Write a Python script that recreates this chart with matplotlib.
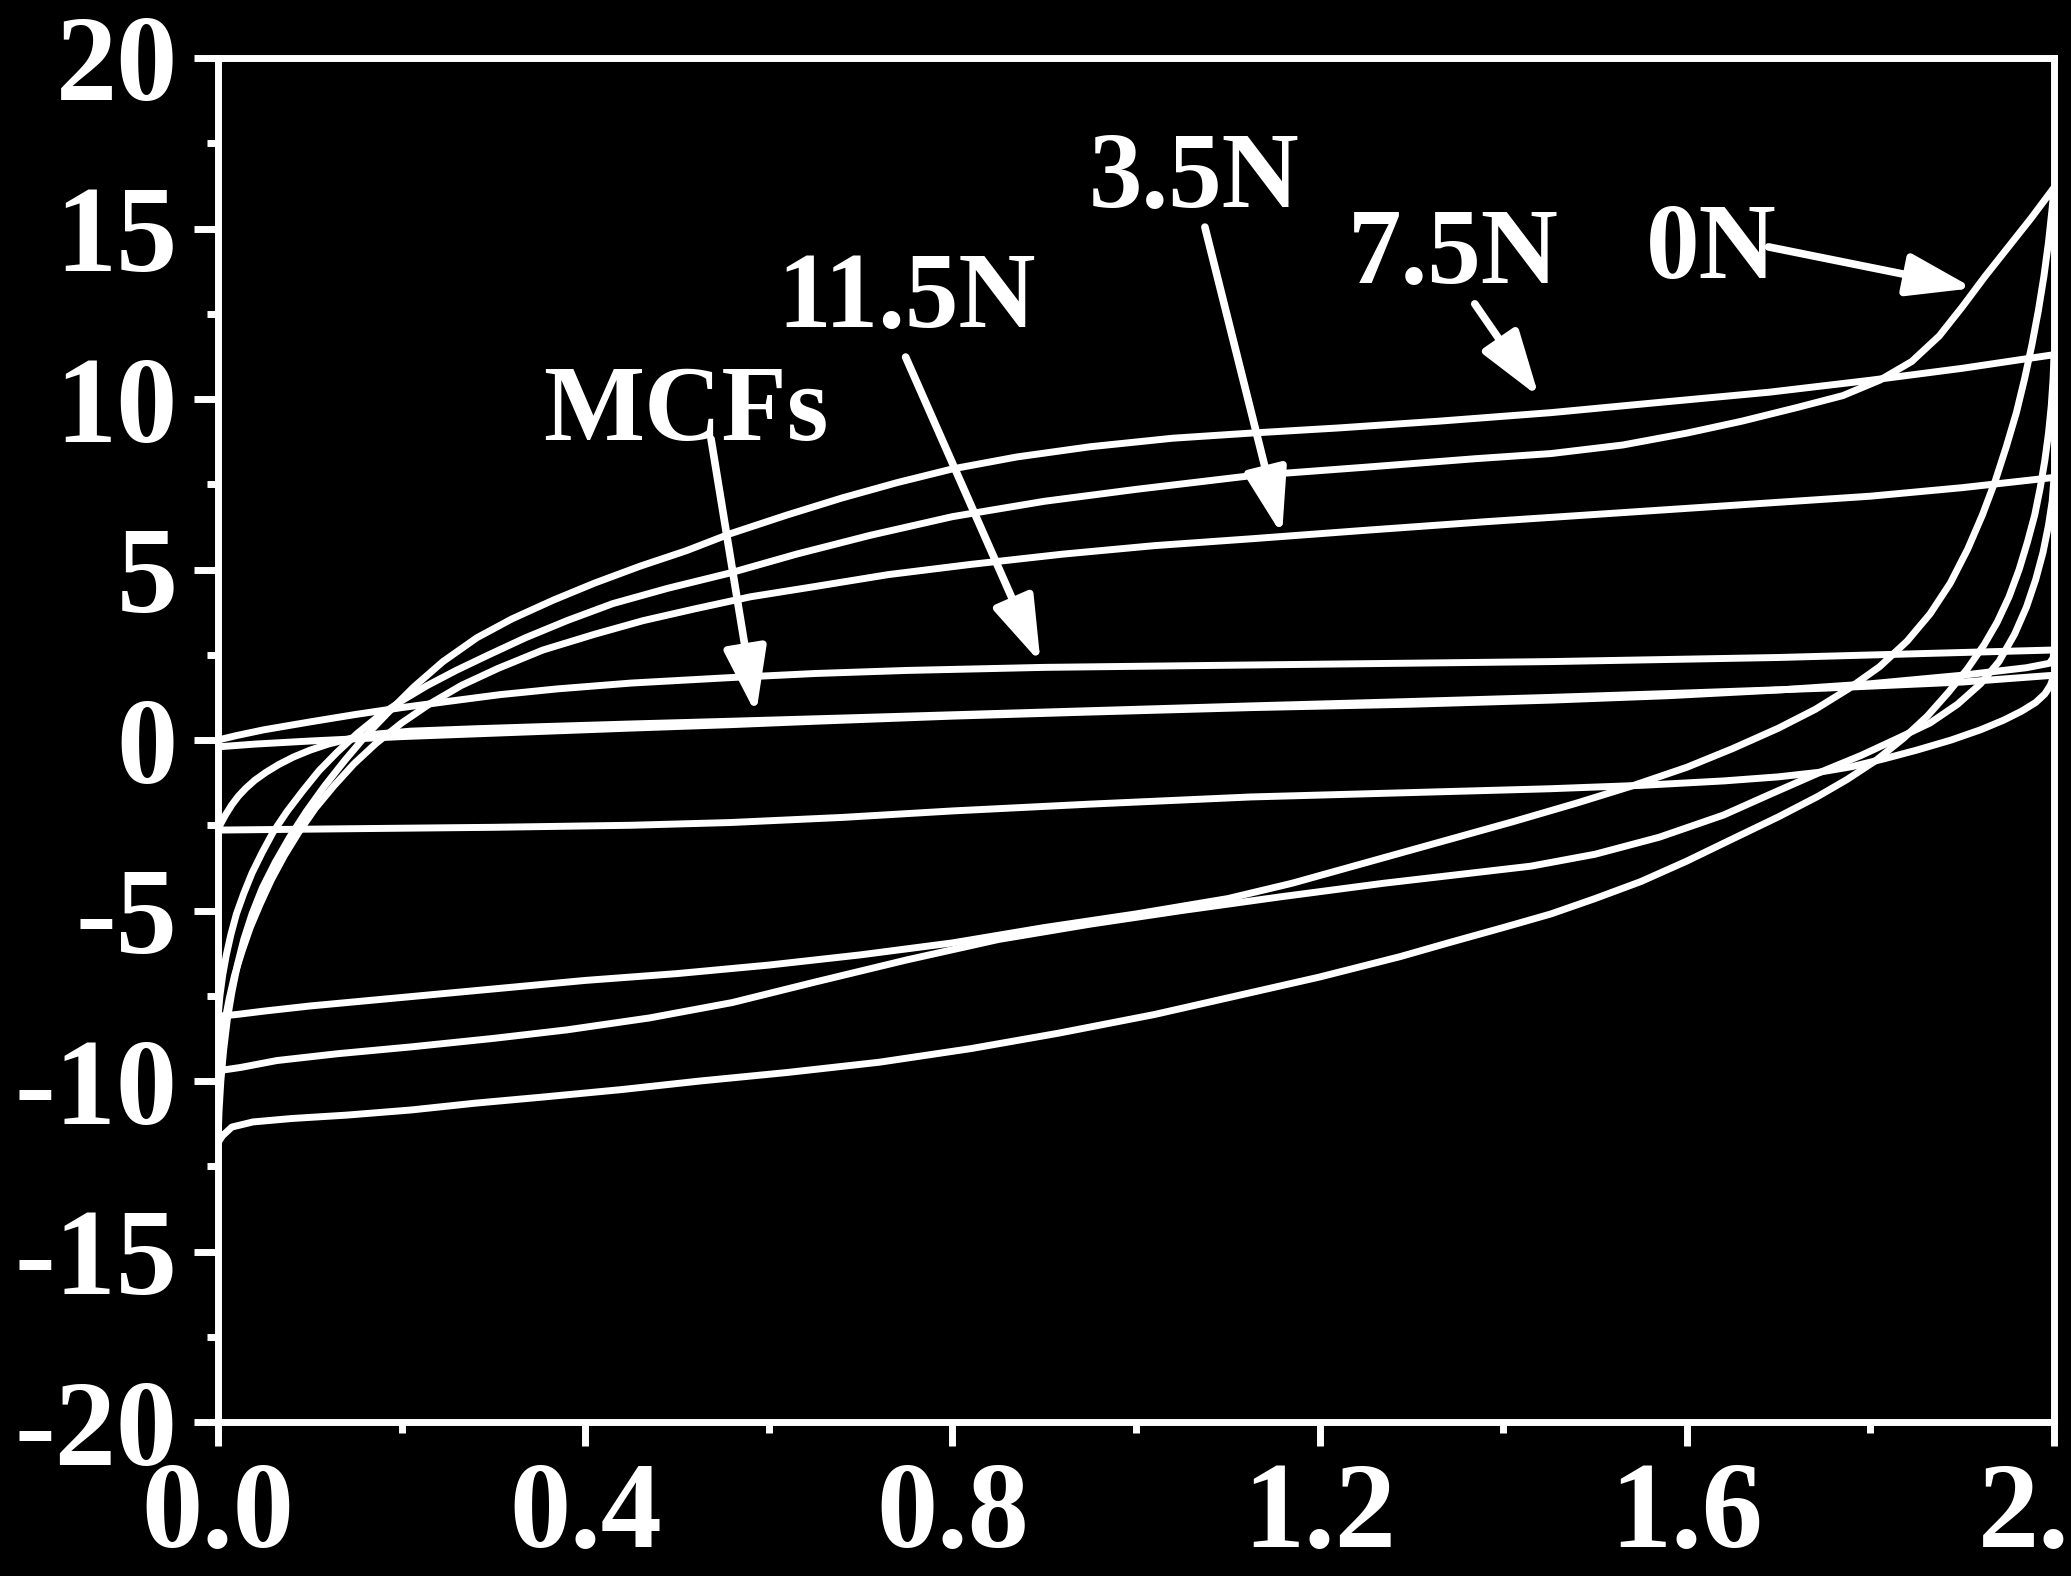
import matplotlib
matplotlib.use("Agg")
import matplotlib.pyplot as plt
from matplotlib.ticker import MultipleLocator

plt.rcParams['font.family'] = ['Liberation Serif', 'DejaVu Serif']
plt.rcParams['font.weight'] = 'bold'
plt.rcParams['axes.unicode_minus'] = False

# ---------------- data ----------------
# 0N
n0_fwd_x = [0.0, 0.002, 0.005, 0.009, 0.014, 0.02, 0.028, 0.037, 0.048, 0.06, 0.075, 0.092, 0.11, 0.13,
            0.152, 0.175, 0.2, 0.228, 0.26, 0.295, 0.335, 0.38, 0.43, 0.49, 0.558, 0.63, 0.71, 0.8, 0.9,
            1.0, 1.125, 1.25, 1.37, 1.452, 1.53, 1.6, 1.66, 1.72, 1.77, 1.81, 1.845, 1.875, 1.9, 1.925,
            1.95, 1.975, 2.0]
n0_fwd_y = [-8.1, -7.5, -6.9, -6.3, -5.7, -5.1, -4.5, -3.9, -3.3, -2.7, -2.1, -1.5, -0.9, -0.35,
            0.2, 0.7, 1.15, 1.6, 2.05, 2.5, 3.0, 3.5, 4.0, 4.45, 4.9, 5.45, 6.0, 6.55, 7.0,
            7.35, 7.75, 8.0, 8.25, 8.4, 8.65, 9.0, 9.35, 9.75, 10.1, 10.55, 11.1, 11.85, 12.7, 13.6,
            14.45, 15.3, 16.2]
n0_rev_x = [2.0, 1.998, 1.994, 1.989, 1.983, 1.976, 1.968, 1.959, 1.948, 1.936, 1.922, 1.906, 1.887,
            1.865, 1.84, 1.81, 1.776, 1.74, 1.7, 1.65, 1.6, 1.54, 1.48, 1.41, 1.33, 1.25, 1.17, 1.1,
            1.0, 0.9, 0.8, 0.7, 0.6, 0.5, 0.4, 0.3, 0.2, 0.1, 0.05, 0.02, 0.0]
n0_rev_y = [16.2, 15.6, 14.6, 13.6, 12.6, 11.6, 10.6, 9.6, 8.6, 7.6, 6.6, 5.6, 4.6,
            3.7, 2.9, 2.15, 1.5, 0.9, 0.35, -0.25, -0.8, -1.35, -1.85, -2.4, -3.0, -3.6, -4.2, -4.65,
            -5.1, -5.5, -5.95, -6.3, -6.6, -6.85, -7.05, -7.3, -7.55, -7.8, -7.95, -8.05, -8.1]

# 3.5N
n35_fwd_x = [0.0, 0.003, 0.007, 0.012, 0.018, 0.026, 0.035, 0.046, 0.058, 0.072, 0.088, 0.106, 0.126,
             0.148, 0.172, 0.2, 0.23, 0.265, 0.305, 0.354, 0.41, 0.463, 0.52, 0.58, 0.65, 0.73, 0.82,
             0.92, 1.02, 1.125, 1.25, 1.38, 1.52, 1.66, 1.8, 1.9, 2.0]
n35_fwd_y = [-9.7, -9.0, -8.3, -7.6, -6.9, -6.2, -5.5, -4.8, -4.1, -3.4, -2.7, -2.0, -1.35,
             -0.7, -0.1, 0.5, 1.05, 1.6, 2.1, 2.64, 3.1, 3.5, 3.85, 4.2, 4.5, 4.85, 5.15,
             5.45, 5.7, 5.9, 6.15, 6.4, 6.65, 6.9, 7.15, 7.4, 7.7]
n35_rev_x = [2.0, 1.998, 1.994, 1.988, 1.98, 1.97, 1.957, 1.94, 1.92, 1.895, 1.865, 1.83, 1.79, 1.745,
             1.69, 1.64, 1.57, 1.5, 1.43, 1.35, 1.27, 1.157, 1.05, 0.95, 0.85, 0.75, 0.65, 0.56, 0.47,
             0.38, 0.3, 0.21, 0.13, 0.064, 0.025, 0.0]
n35_rev_y = [7.7, 7.0, 6.3, 5.5, 4.7, 3.9, 3.1, 2.3, 1.65, 1.05, 0.5, 0.05, -0.45, -0.95,
             -1.6, -2.2, -2.85, -3.35, -3.7, -3.95, -4.2, -4.6, -5.0, -5.4, -5.85, -6.45, -7.1, -7.7, -8.15,
             -8.5, -8.75, -9.0, -9.2, -9.4, -9.6, -9.7]

# 7.5N
n75_fwd_x = [0.0, 0.001, 0.003, 0.006, 0.01, 0.015, 0.021, 0.028, 0.037, 0.048, 0.062, 0.078, 0.096,
             0.116, 0.138, 0.16, 0.185, 0.213, 0.245, 0.282, 0.32, 0.365, 0.41, 0.46, 0.51, 0.558, 0.62,
             0.68, 0.74, 0.8, 0.87, 0.95, 1.04, 1.125, 1.22, 1.33, 1.452, 1.57, 1.69, 1.8, 1.9, 2.0]
n75_fwd_y = [-11.7, -10.9, -10.0, -9.1, -8.2, -7.4, -6.6, -5.85, -5.1, -4.35, -3.6, -2.85, -2.1,
             -1.35, -0.6, 0.1, 0.8, 1.55, 2.3, 3.0, 3.55, 4.1, 4.6, 5.1, 5.55, 6.05, 6.6,
             7.1, 7.55, 7.95, 8.3, 8.6, 8.85, 9.0, 9.15, 9.35, 9.6, 9.9, 10.2, 10.55, 10.9, 11.3]
n75_rev_x = [2.0, 1.999, 1.997, 1.994, 1.99, 1.985, 1.979, 1.971, 1.962, 1.951, 1.938, 1.924, 1.906,
             1.885, 1.862, 1.836, 1.806, 1.775, 1.743, 1.7, 1.646, 1.6, 1.55, 1.5, 1.452, 1.4, 1.34,
             1.288, 1.2, 1.11, 1.02, 0.915, 0.82, 0.72, 0.62, 0.525, 0.44, 0.354, 0.28, 0.21, 0.14,
             0.08, 0.038, 0.015, 0.005, 0.0]
n75_rev_y = [11.3, 10.6, 9.8, 9.0, 8.2, 7.4, 6.6, 5.8, 5.0, 4.2, 3.45, 2.8, 2.1,
             1.4, 0.7, 0.05, -0.6, -1.15, -1.65, -2.25, -2.95, -3.55, -4.15, -4.65, -5.1, -5.5, -5.95,
             -6.35, -6.95, -7.5, -8.05, -8.6, -9.05, -9.45, -9.75, -10.0, -10.25, -10.47, -10.65, -10.85, -11.0,
             -11.1, -11.2, -11.35, -11.6, -11.8]

# 11.5N
n115_fwd_x = [0.0, 0.02, 0.05, 0.1, 0.15, 0.2, 0.25, 0.307, 0.37, 0.45, 0.558, 0.65, 0.75, 0.9, 1.125,
              1.452, 1.7, 2.0]
n115_fwd_y = [0.0, 0.13, 0.3, 0.53, 0.75, 0.95, 1.13, 1.33, 1.5, 1.67, 1.83, 1.95, 2.04, 2.13, 2.2,
              2.3, 2.42, 2.64]
n115_rev_x = [2.0, 1.999, 1.995, 1.97, 1.9, 1.8, 1.702, 1.58, 1.452, 1.3, 1.125, 0.95, 0.8, 0.65,
              0.558, 0.45, 0.35, 0.2, 0.1, 0.04, 0.0]
n115_rev_y = [2.64, 2.4, 2.25, 2.12, 1.9, 1.65, 1.47, 1.3, 1.17, 1.05, 0.95, 0.82, 0.7, 0.55,
              0.45, 0.35, 0.25, 0.1, -0.03, -0.12, -0.2]

# MCFs
mcf_fwd_x = [0.0, 0.003, 0.008, 0.015, 0.022, 0.03, 0.04, 0.052, 0.066, 0.082, 0.1, 0.12, 0.145, 0.175,
             0.21, 0.28, 0.35, 0.45, 0.558, 0.7, 0.85, 1.0, 1.125, 1.3, 1.452, 1.6, 1.75, 1.9, 2.0]
mcf_fwd_y = [-2.6, -2.45, -2.2, -1.9, -1.65, -1.42, -1.18, -0.95, -0.72, -0.5, -0.3, -0.12, 0.05, 0.18,
             0.26, 0.33, 0.39, 0.47, 0.55, 0.66, 0.78, 0.9, 1.0, 1.13, 1.25, 1.38, 1.52, 1.7, 1.9]
mcf_rev_x = [2.0, 1.996, 1.99, 1.98, 1.965, 1.945, 1.92, 1.888, 1.85, 1.815, 1.78, 1.743, 1.7, 1.64,
             1.55, 1.45, 1.288, 1.125, 0.95, 0.8, 0.68, 0.558, 0.45, 0.3, 0.15, 0.005, 0.0]
mcf_rev_y = [1.9, 1.6, 1.35, 1.1, 0.85, 0.58, 0.3, 0.0, -0.3, -0.55, -0.78, -0.95, -1.08, -1.2,
             -1.33, -1.43, -1.55, -1.67, -1.88, -2.08, -2.27, -2.42, -2.5, -2.56, -2.6, -2.64, -2.65]

# labels and arrows
annot_labels = ["MCFs", "11.5N", "3.5N", "7.5N", "0N"]
annot_text_x = [0.510, 0.750, 1.063, 1.346, 1.627]
annot_text_y = [8.80, 12.11, 15.63, 13.40, 13.55]
arrow_tail_x = [0.537, 0.749, 1.075, 1.369, 1.689]
arrow_tail_y = [8.83, 11.23, 15.04, 12.79, 14.46]
arrow_tip_x = [0.586, 0.896, 1.159, 1.439, 1.912]
arrow_tip_y = [0.76, 2.26, 6.01, 10.06, 13.25]

x_ticks = [0.0, 0.4, 0.8, 1.2, 1.6, 2.0]
x_tick_labels = ["0.0", "0.4", "0.8", "1.2", "1.6", "2.0"]
y_ticks = [-20, -15, -10, -5, 0, 5, 10, 15, 20]
y_tick_labels = ["-20", "-15", "-10", "-5", "0", "5", "10", "15", "20"]

# ---------------- drawing ----------------
fig = plt.figure(figsize=(20.71, 15.76), dpi=100, facecolor='black')
ax = fig.add_axes([0.1053, 0.0977, 0.8865, 0.8655], facecolor='black')

loops = [
    (n0_fwd_x, n0_fwd_y, n0_rev_x, n0_rev_y),
    (n35_fwd_x, n35_fwd_y, n35_rev_x, n35_rev_y),
    (n75_fwd_x, n75_fwd_y, n75_rev_x, n75_rev_y),
    (n115_fwd_x, n115_fwd_y, n115_rev_x, n115_rev_y),
    (mcf_fwd_x, mcf_fwd_y, mcf_rev_x, mcf_rev_y),
]
for xf, yf, xr, yr in loops:
    ax.plot(list(xf) + list(xr), list(yf) + list(yr), color='white', lw=5.0,
            solid_joinstyle='round', solid_capstyle='round', zorder=2)

for i, lab in enumerate(annot_labels):
    ax.text(annot_text_x[i], annot_text_y[i], lab, ha='center', va='baseline',
            fontsize=77, fontweight='bold', color='white', zorder=4)
    ax.annotate('', xy=(arrow_tip_x[i], arrow_tip_y[i]),
                xytext=(arrow_tail_x[i], arrow_tail_y[i]),
                arrowprops=dict(arrowstyle='-|>,head_length=2.0,head_width=0.65',
                                mutation_scale=20, lw=5.5, color='white',
                                shrinkA=0, shrinkB=0), zorder=3)

ax.set_xlim(0, 2.0)
ax.set_ylim(-20, 20)
ax.set_xticks(x_ticks)
ax.set_xticklabels(x_tick_labels, fontsize=88, fontweight='bold', color='white')
ax.set_yticks(y_ticks)
ax.set_yticklabels(y_tick_labels, fontsize=88, fontweight='bold', color='white')
ax.xaxis.set_minor_locator(MultipleLocator(0.2))
ax.yaxis.set_minor_locator(MultipleLocator(2.5))

for s in ax.spines.values():
    s.set_color('white')
    s.set_linewidth(5)
ax.tick_params(which='major', direction='out', length=17, width=5, color='white')
ax.tick_params(which='minor', direction='out', length=8, width=5, color='white')
ax.tick_params(axis='x', which='major', pad=12)
ax.tick_params(axis='y', which='major', pad=12)
ax.tick_params(top=False, right=False, which='both')

fig.savefig('out.png', dpi=100, facecolor='black')
